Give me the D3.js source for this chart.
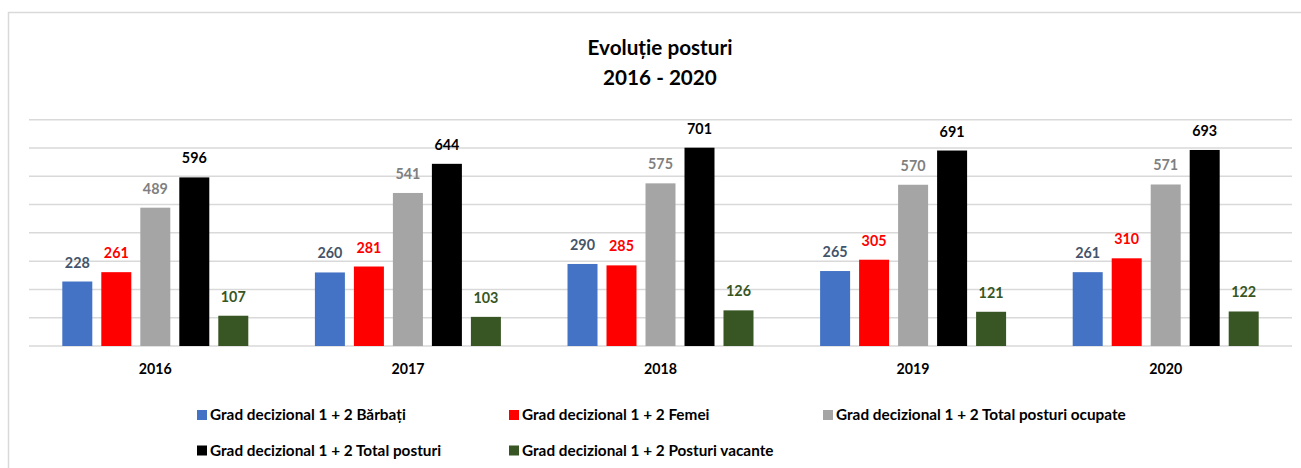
<!DOCTYPE html>
<html>
<head>
<meta charset="utf-8">
<script src="https://cdn.jsdelivr.net/npm/d3@7"></script>
<style>
  body { margin: 0; background: #fff; }
  svg text { font-family: Lato, "Open Sans", sans-serif; font-weight: bold; }
</style>
</head>
<body>
<div id="chart"></div>
<script>
// chart values
const years = ["2016", "2017", "2018", "2019", "2020"]
const seriesNames = [
    "Grad decizional 1 + 2 Bărbați",
    "Grad decizional 1 + 2 Femei",
    "Grad decizional 1 + 2 Total posturi ocupate",
    "Grad decizional 1 + 2 Total posturi",
    "Grad decizional 1 + 2 Posturi vacante"
]
const barbati = [228, 260, 290, 265, 261]
const femei = [261, 281, 285, 305, 310]
const ocupate = [489, 541, 575, 570, 571]
const totalPosturi = [596, 644, 701, 691, 693]
const vacante = [107, 103, 126, 121, 122]
const gridTicks = [0, 100, 200, 300, 400, 500, 600, 700, 800]

const seriesValues = [barbati, femei, ocupate, totalPosturi, vacante]
const barColors = ["#4472C4", "#FF0000", "#A5A5A5", "#000000", "#375623"]
const labelColors = ["#44546A", "#FF0000", "#7F7F7F", "#000000", "#375623"]

const width = 1301
const height = 468
const margin = ({ top: 119.7, right: 9, bottom: 122, left: 29 })

const svg = d3.select("#chart")
    .append("svg")
    .attr("width", width)
    .attr("height", height)

// fit a text selection's font size so that its first node is `target` px wide
function fitFont(sel, target) {
    const base = 14
    sel.attr("font-size", base)
    const w = sel.node().getComputedTextLength()
    sel.attr("font-size", base * target / w)
}

// chart frame (only top and left edges are visible)
svg.append("path")
    .attr("d", `M8.5,${height} L8.5,12.5 L${width},12.5`)
    .attr("fill", "none")
    .attr("stroke", "#d9d9d9")
    .attr("stroke-width", 1.5)

// title
const t1 = svg.append("text")
    .attr("x", 660).attr("y", 55)
    .attr("text-anchor", "middle")
    .attr("fill", "#000")
    .text("Evoluție posturi")
fitFont(t1, 145)
svg.append("text")
    .attr("x", 660).attr("y", 85)
    .attr("text-anchor", "middle")
    .attr("font-size", t1.attr("font-size"))
    .attr("fill", "#000")
    .text("2016 - 2020")

var x0 = d3.scaleBand()
    .domain(years)
    .range([margin.left, width - margin.right])
    .padding(0)

var x1 = d3.scaleBand()
    .domain(d3.range(seriesNames.length))
    .range([0, x0.bandwidth()])
    .paddingInner(0.2308)
    .paddingOuter(0.854)

var yScale = d3.scaleLinear()
    .domain([0, 800])
    .range([height - margin.bottom, margin.top])

// gridlines
svg.append("g")
    .selectAll("line")
    .data(gridTicks)
    .enter().append("line")
    .attr("x1", margin.left)
    .attr("x2", width - margin.right)
    .attr("y1", d => yScale(d))
    .attr("y2", d => yScale(d))
    .attr("stroke", "#d9d9d9")
    .attr("stroke-width", 1.5)

// bars
const groups = svg.append("g")
    .selectAll("g")
    .data(years)
    .enter().append("g")
    .attr("transform", d => `translate(${x0(d)},0)`)

groups.selectAll("rect")
    .data((d, i) => seriesValues.map((s, k) => ({ k: k, v: s[i] })))
    .enter().append("rect")
    .attr("x", d => x1(d.k))
    .attr("y", d => yScale(d.v))
    .attr("width", x1.bandwidth())
    .attr("height", d => yScale(0) - yScale(d.v))
    .attr("fill", d => barColors[d.k])

const valueLabels = groups.selectAll("text")
    .data((d, i) => seriesValues.map((s, k) => ({ k: k, v: s[i] })))
    .enter().append("text")
    .attr("x", d => x1(d.k) + x1.bandwidth() / 2)
    .attr("y", d => yScale(d.v) - 14)
    .attr("text-anchor", "middle")
    .attr("fill", d => labelColors[d.k])
    .text(d => d.v)
fitFont(valueLabels, 25)

// category axis
const xAxis = svg.append("g")
    .attr("transform", `translate(0,${yScale(0)})`)
    .call(d3.axisBottom(x0).tickSize(0).tickPadding(18))
xAxis.select(".domain").remove()
const catLabels = xAxis.selectAll("text")
    .attr("font-family", "Lato, sans-serif")
    .attr("fill", "#000")
fitFont(catLabels, 33)

// legend
const legendPos = [[197, 415], [509, 415], [823, 415], [197, 450.5], [509, 450.5]]
const legend = svg.append("g")
    .selectAll("g")
    .data(seriesNames)
    .enter().append("g")
    .attr("transform", (d, i) => `translate(${legendPos[i][0]},${legendPos[i][1]})`)

legend.append("rect")
    .attr("x", 0).attr("y", -5)
    .attr("width", 10).attr("height", 10)
    .attr("fill", (d, i) => barColors[i])

const legendText = legend.append("text")
    .attr("x", 13)
    .attr("y", 5)
    .attr("fill", "#000")
    .text(d => d)
fitFont(legendText, 196)
</script>
</body>
</html>
